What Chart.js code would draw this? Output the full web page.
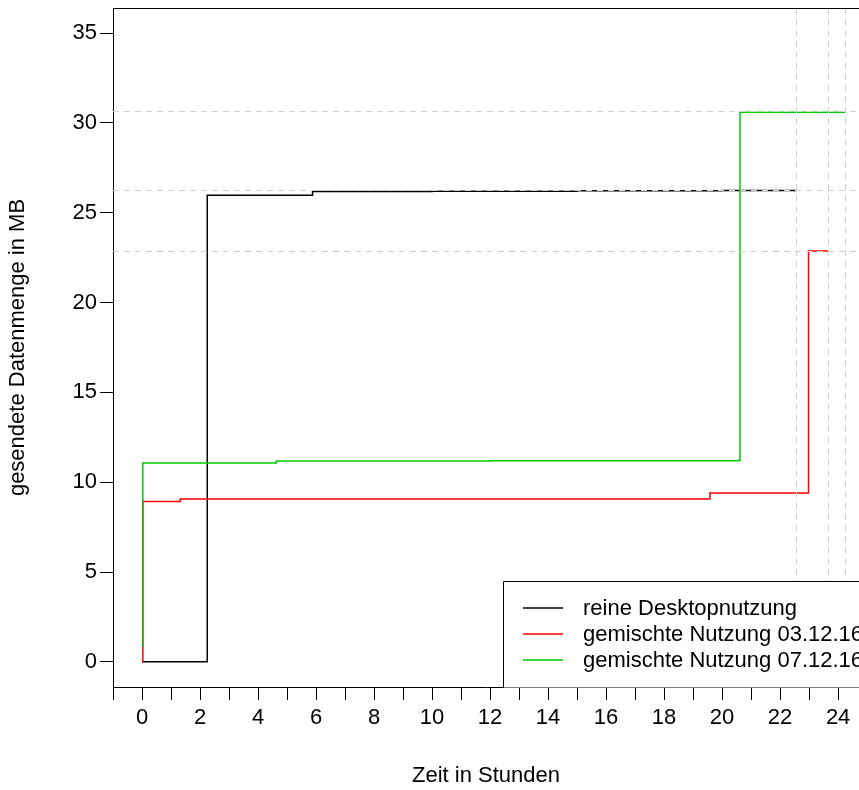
<!DOCTYPE html>
<html>
<head>
<meta charset="utf-8">
<script src="https://cdn.jsdelivr.net/npm/chart.js@4.4.0/dist/chart.umd.min.js"></script>
<style>
    html, body { margin: 0; padding: 0; background: #fff; overflow: hidden; }
</style>
</head>
<body>
<canvas id="chart" width="859" height="790"></canvas>
<script>
// step points: hour where the value changes, new value in MB
const desktopHours = [0, 2.25, 5.88, 10, 15, 20, 22.55];
const desktopMB = [0, 25.97, 26.18, 26.2, 26.22, 26.24, 26.25];

const mixed0312Hours = [0, 0.03, 1.32, 19.58, 22.98, 23.65];
const mixed0312MB = [0, 8.93, 9.07, 9.40, 22.87, 22.87];

const mixed0712Hours = [0, 0.03, 4.63, 12, 20.57, 20.62, 24.24];
const mixed0712MB = [0.9, 11.07, 11.18, 11.2, 11.22, 30.6, 30.65];

// dashed guide lines (final values and end times)
const refMB = [30.65, 26.25, 22.87];
const refHours = [22.55, 23.65, 24.24];

const seriesNames = ['reine Desktopnutzung', 'gemischte Nutzung 03.12.16', 'gemischte Nutzung 07.12.16'];
const seriesColors = ['#000000', '#ff0000', '#00cd00'];

const FONT = '"Liberation Sans", Arial, Helvetica, sans-serif';
const FONT_SIZE = 22;

function toPoints(hours, mb) {
    return hours.map((h, i) => ({ x: h, y: mb[i] }));
}

const guides = {
    id: 'guides',
    afterDatasetsDraw(chart) {
        const { ctx, chartArea: a, scales: { x, y } } = chart;
        ctx.save();
        ctx.strokeStyle = '#d0d0d0';
        ctx.lineWidth = 1;
        ctx.setLineDash([6, 5]);
        refMB.forEach(v => {
            const py = Math.round(y.getPixelForValue(v)) + 0.5;
            ctx.beginPath();
            ctx.moveTo(a.left, py);
            ctx.lineTo(a.right, py);
            ctx.stroke();
        });
        refHours.forEach(v => {
            const px = Math.round(x.getPixelForValue(v)) + 0.5;
            ctx.beginPath();
            ctx.moveTo(px, a.top);
            ctx.lineTo(px, a.bottom);
            ctx.stroke();
        });
        ctx.restore();
    },
    afterDraw(chart) {
        const { ctx, chartArea: a } = chart;
        ctx.save();
        // top of the box (right side is cut off)
        ctx.strokeStyle = '#000';
        ctx.lineWidth = 1;
        ctx.beginPath();
        ctx.moveTo(a.left, Math.round(a.top) + 0.5);
        ctx.lineTo(a.right, Math.round(a.top) + 0.5);
        ctx.stroke();

        // legend, bottom right
        const boxLeft = 503.5, boxTop = 581.5, boxBottom = Math.round(a.bottom) + 0.5;
        ctx.fillStyle = '#fff';
        ctx.fillRect(boxLeft, boxTop, a.right - boxLeft + 5, boxBottom - boxTop);
        ctx.beginPath();
        ctx.moveTo(a.right + 5, boxTop);
        ctx.lineTo(boxLeft, boxTop);
        ctx.lineTo(boxLeft, boxBottom);
        ctx.stroke();

        ctx.font = FONT_SIZE + 'px ' + FONT;
        ctx.textBaseline = 'middle';
        ctx.textAlign = 'left';
        seriesNames.forEach((name, i) => {
            const rowY = 608 + i * 26;
            ctx.strokeStyle = seriesColors[i];
            ctx.lineWidth = 1.5;
            ctx.beginPath();
            ctx.moveTo(523, rowY);
            ctx.lineTo(563, rowY);
            ctx.stroke();
            ctx.fillStyle = '#000';
            ctx.fillText(name, 583, rowY + 1);
        });
        ctx.restore();
    }
};

const ctx = document.getElementById('chart').getContext('2d');

new Chart(ctx, {
    type: 'line',
    data: {
        datasets: [
            {
                label: seriesNames[0],
                data: toPoints(desktopHours, desktopMB),
                borderColor: seriesColors[0],
                order: 2
            },
            {
                label: seriesNames[1],
                data: toPoints(mixed0312Hours, mixed0312MB),
                borderColor: seriesColors[1],
                order: 1
            },
            {
                label: seriesNames[2],
                data: toPoints(mixed0712Hours, mixed0712MB),
                borderColor: seriesColors[2],
                order: 0
            }
        ].map(ds => Object.assign(ds, {
            stepped: true,
            borderWidth: 1.5,
            pointRadius: 0,
            fill: false
        }))
    },
    options: {
        responsive: false,
        animation: false,
        events: [],
        layout: { padding: { top: 8, left: 0, right: 0, bottom: 0 } },
        plugins: {
            legend: { display: false },
            tooltip: { enabled: false }
        },
        scales: {
            x: {
                type: 'linear',
                min: -1,
                max: 24.72,
                afterFit: scale => {
                    scale.height = 103;
                    scale.paddingLeft = 0;
                    scale.paddingRight = 0;
                },
                grid: { drawOnChartArea: false, drawTicks: true, tickLength: 13, color: '#000' },
                border: { display: true, color: '#000', width: 1 },
                ticks: {
                    stepSize: 1,
                    includeBounds: false,
                    autoSkip: false,
                    maxTicksLimit: 100,
                    maxRotation: 0,
                    padding: 5,
                    color: '#000',
                    font: { family: FONT, size: FONT_SIZE },
                    callback: v => (v % 2 === 0 ? String(v) : '')
                },
                title: {
                    display: true,
                    text: 'Zeit in Stunden',
                    color: '#000',
                    font: { family: FONT, size: FONT_SIZE },
                    padding: { top: 0, bottom: 1 }
                }
            },
            y: {
                type: 'linear',
                min: -1.4,
                max: 36.4,
                afterFit: scale => {
                    scale.width = 113;
                    scale.paddingTop = 0;
                    scale.paddingBottom = 0;
                },
                grid: { drawOnChartArea: false, drawTicks: true, tickLength: 13, color: '#000' },
                border: { display: true, color: '#000', width: 1 },
                ticks: {
                    stepSize: 5,
                    includeBounds: false,
                    padding: 3,
                    color: '#000',
                    font: { family: FONT, size: FONT_SIZE }
                },
                title: {
                    display: true,
                    text: 'gesendete Datenmenge in MB',
                    color: '#000',
                    font: { family: FONT, size: FONT_SIZE },
                    padding: { top: 5, bottom: 0 }
                }
            }
        }
    },
    plugins: [guides]
});
</script>
</body>
</html>
